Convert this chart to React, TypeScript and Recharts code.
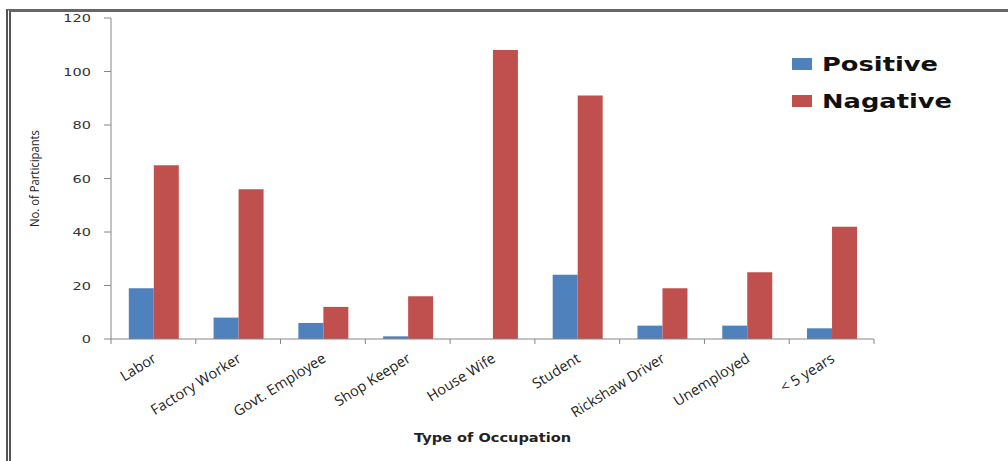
import React from 'react';
import { BarChart, Bar, XAxis, YAxis, Label } from 'recharts';

const occupations = [
  'Labor',
  'Factory Worker',
  'Govt. Employee',
  'Shop Keeper',
  'House Wife',
  'Student',
  'Rickshaw Driver',
  'Unemployed',
  '< 5 years',
];
const positive = [19, 8, 6, 1, 0, 24, 5, 5, 4];
const negative = [65, 56, 12, 16, 108, 91, 19, 25, 42];
const yTicks = [0, 20, 40, 60, 80, 100, 120];
const seriesNames = ['Positive', 'Nagative'];

const data = occupations.map((name, i) => ({ name, Positive: positive[i], Nagative: negative[i] }));

const W = 1008;
const H = 461;
const MARGIN = { top: 18, right: 134, bottom: 22, left: 61 };
const Y_AXIS_W = 50;
const X_AXIS_H = 100;
const PLOT_W = W - MARGIN.left - MARGIN.right - Y_AXIS_W;
const HALF_BAND = PLOT_W / occupations.length / 2;

const BLUE = '#4F81BD';
const RED = '#C0504D';
const AXIS = '#868686';
const COLORS = [BLUE, RED];

const XTick = (props: any) => {
  const { x, y, payload, index } = props;
  const isLast = index === occupations.length - 1;
  const ax = x + 4;
  const ay = y + 14;
  return (
    <g>
      <line x1={x - HALF_BAND} x2={x - HALF_BAND} y1={y - 8} y2={y - 3} stroke={AXIS} />
      {isLast && <line x1={x + HALF_BAND} x2={x + HALF_BAND} y1={y - 8} y2={y - 3} stroke={AXIS} />}
      <text
        x={ax}
        y={ay}
        transform={`rotate(-32, ${ax}, ${ay})`}
        textAnchor="end"
        fontFamily="'Open Sans', sans-serif"
        fontSize={14.5}
        fill="#222"
      >
        {payload.value}
      </text>
    </g>
  );
};

const YTick = (props: any) => {
  const { x, y, payload } = props;
  return (
    <g transform={`translate(${x}, ${y + 4})`}>
      <text transform="scale(1.45,1)" textAnchor="end" fontFamily="'DejaVu Sans', sans-serif" fontSize={10} fill="#333">
        {payload.value}
      </text>
    </g>
  );
};

const LegendBox = () => (
  <svg width={200} height={80} style={{ position: 'absolute', left: 792, top: 52, display: 'block' }}>
    {seriesNames.map((s, i) => (
      <g key={s}>
        <rect x={0} y={6 + i * 37} width={20} height={12} fill={COLORS[i]} />
        <text
          x={30}
          y={19 + i * 37}
          fontFamily="'DejaVu Sans', sans-serif"
          fontWeight="bold"
          fontSize={19}
          textLength={i === 0 ? 116 : 130}
          lengthAdjust="spacingAndGlyphs"
          fill="#111"
        >
          {s}
        </text>
      </g>
    ))}
  </svg>
);

export default function App() {
  return (
    <div
      style={{
        position: 'fixed',
        left: 0,
        top: 0,
        width: W,
        height: H,
        background: '#fff',
        overflow: 'hidden',
      }}
    >
      <div
        style={{
          position: 'absolute',
          left: 6,
          top: 9,
          right: -10,
          bottom: -10,
          borderLeft: '5px double #555',
          borderTop: '3px solid #666',
        }}
      />
      <div style={{ position: 'absolute', left: 0, top: 0 }}>
        <BarChart width={W} height={H} data={data} margin={MARGIN} barCategoryGap="21%" barGap={0}>
          <XAxis
            dataKey="name"
            height={X_AXIS_H}
            interval={0}
            tickLine={false}
            tickSize={5}
            tickMargin={3}
            axisLine={{ stroke: AXIS }}
            tick={<XTick />}
          >
            <Label
              content={(p: any) => {
                const vb = p.viewBox;
                return (
                  <text
                    x={vb.x + vb.width / 2}
                    y={442}
                    textAnchor="middle"
                    fontFamily="'DejaVu Sans', sans-serif"
                    fontWeight="bold"
                    fontSize={12}
                    textLength={157}
                    lengthAdjust="spacingAndGlyphs"
                    fill="#222"
                  >
                    Type of Occupation
                  </text>
                );
              }}
            />
          </XAxis>
          <YAxis
            width={Y_AXIS_W}
            domain={[0, 120]}
            ticks={yTicks}
            interval={0}
            tickSize={7}
            tickMargin={13}
            axisLine={{ stroke: AXIS }}
            tickLine={{ stroke: AXIS }}
            tick={<YTick />}
          >
            <Label
              content={(p: any) => {
                const vb = p.viewBox;
                const cy = vb.y + vb.height / 2;
                return (
                  <text
                    x={39}
                    y={cy}
                    transform={`rotate(-90, 39, ${cy})`}
                    textAnchor="middle"
                    fontFamily="'Liberation Sans Narrow', 'Open Sans', sans-serif"
                    fontSize={12}
                    textLength={97}
                    lengthAdjust="spacingAndGlyphs"
                    fill="#222"
                  >
                    No. of Participants
                  </text>
                );
              }}
            />
          </YAxis>
          <Bar dataKey="Positive" fill={BLUE} isAnimationActive={false} />
          <Bar dataKey="Nagative" fill={RED} isAnimationActive={false} />
        </BarChart>
      </div>
      <LegendBox />
    </div>
  );
}
